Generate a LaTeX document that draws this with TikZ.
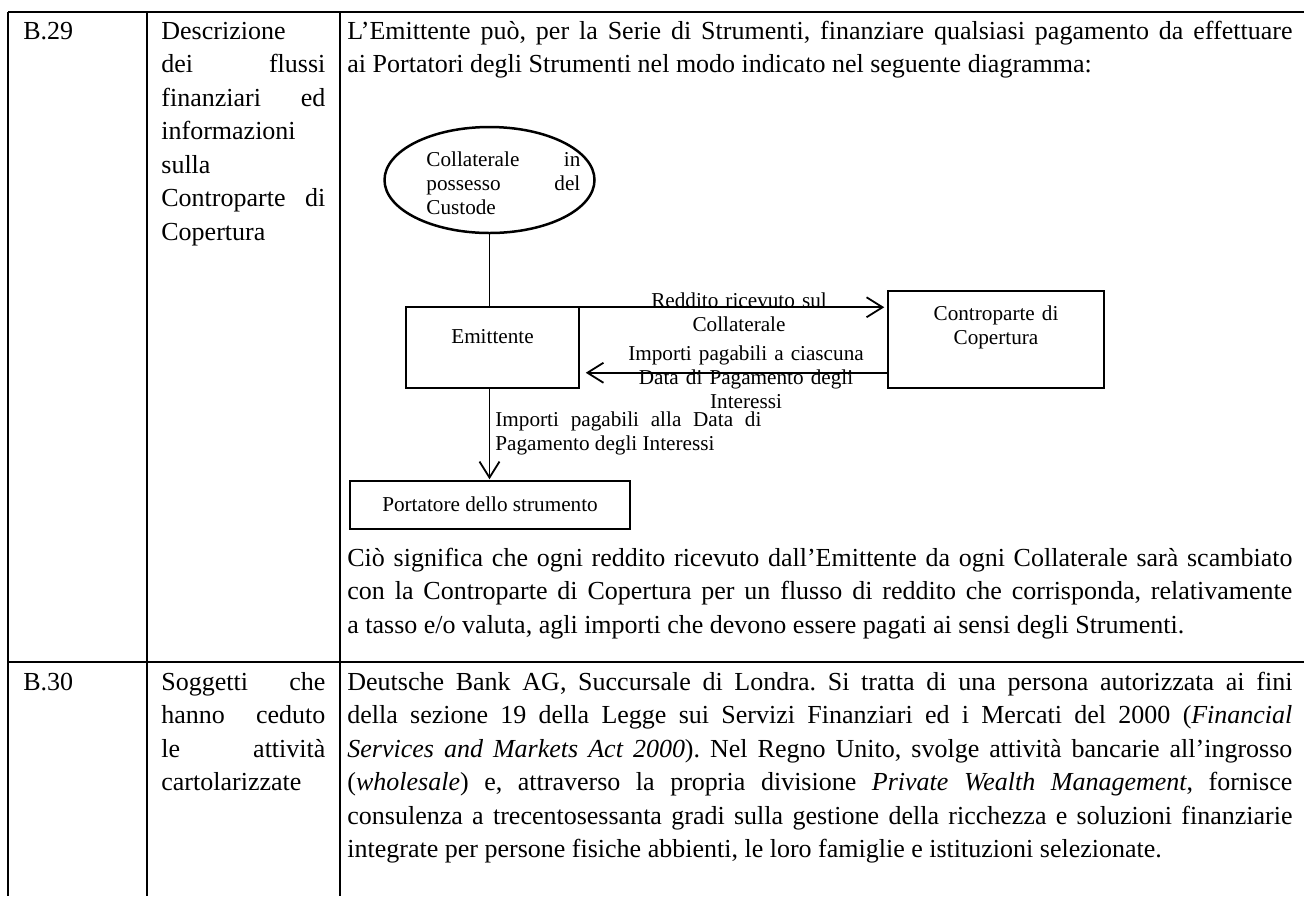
\documentclass[tikz,border=0pt]{standalone}
\usepackage{fontspec}
\setmainfont{Liberation Serif}
\usetikzlibrary{arrows.meta,shapes.geometric}
\frenchspacing

\newcommand{\bodyfont}{\fontsize{13pt}{16.75pt}\selectfont\hyphenpenalty=10000\tolerance=9999}
\newcommand{\dgmfont}{\fontsize{10.6pt}{12pt}\selectfont\hyphenpenalty=10000\tolerance=9999}

\begin{document}
\begin{tikzpicture}[x=0.5pt, y=-0.5pt,
    rule/.style={line width=1.3pt},
    celltext/.style={anchor=base west, inner sep=0pt, align=justify, font=\bodyfont},
    box/.style={draw, line width=0.75pt, inner sep=0pt},
    dgmtext/.style={inner sep=0pt, font=\dgmfont},
    flow/.style={line width=0.9pt, -{Straight Barb[length=8pt,width=10pt]}}]
  \useasboundingbox (0,0) rectangle (1304,896);

  % Draw the table rules
  \draw[rule] (8,12) -- (1304,12);
  \draw[rule] (8,662) -- (1304,662);
  \draw[rule] (8,12) -- (8,896);
  \draw[rule] (147,12) -- (147,896);
  \draw[rule] (340,12) -- (340,896);

  % First row
  \node[celltext] (num29) at (23,39) {B.29};
  \node[celltext, text width=82pt] (head29) at (161,39) {Descrizione\linebreak dei flussi\linebreak finanziari ed\linebreak informazioni\linebreak sulla\linebreak Controparte di\linebreak Copertura};
  \node[celltext, text width=472.5pt] (intro) at (347,39) {L’Emittente può, per la Serie di Strumenti, finanziare qualsiasi pagamento da effettuare\linebreak ai Portatori degli Strumenti nel modo indicato nel seguente diagramma:};

  % Diagram boxes
  \node[box, ellipse, line width=1.25pt, minimum width=105pt, minimum height=53pt] (coll) at (489.5,180) {};
  \node[dgmtext, anchor=base west, text width=77pt, align=justify] (colltext) at (426,166) {Collaterale in\linebreak possesso del\linebreak Custode};
  \node[box, minimum width=86.5pt, minimum height=40.5pt] (emitt) at (492.5,347.5) {};
  \node[dgmtext, anchor=base] (emittext) at (492.5,343) {Emittente};
  \node[box, minimum width=108pt, minimum height=48.5pt] (ctrp) at (996,339.5) {};
  \node[dgmtext, anchor=base, text width=100pt, align=center] (ctrptext) at (996,320) {Controparte di\\Copertura};
  \node[box, minimum width=140pt, minimum height=24pt] (port) at (490,505) {};
  \node[dgmtext, anchor=base] (porttext) at (490,511) {Portatore dello strumento};

  % Connectors
  \draw[line width=0.9pt] (coll.south) -- (coll.south |- emitt.north);
  \draw[flow] ([yshift=-0.5pt]emitt.north east) -- ([xshift=-1.5pt,yshift=-0.5pt]ctrp.west |- emitt.north east);
  \coordinate (back) at ([yshift=8pt]emitt.south east);
  \draw[flow] (ctrp.west |- back) -- ([xshift=3pt]back);
  \draw[flow] (coll.south |- emitt.south) -- ([yshift=0.5pt]coll.south |- port.north);

  % Connector labels
  \node[dgmtext, anchor=base, text width=100pt, align=center] (reddito) at (739,307) {Reddito ricevuto sul\\Collaterale};
  \node[dgmtext, anchor=base, text width=130pt, align=center] (importi) at (746,360) {Importi pagabili a ciascuna\\Data di Pagamento degli\\Interessi};
  \node[dgmtext, anchor=base west, text width=133pt, align=justify] (pagabili) at (495,426) {Importi pagabili alla Data di\linebreak Pagamento degli Interessi};

  \node[celltext, text width=472.5pt] (meaning) at (347,566) {Ciò significa che ogni reddito ricevuto dall’Emittente da ogni Collaterale sarà scambiato\linebreak con la Controparte di Copertura per un flusso di reddito che corrisponda, relativamente\linebreak a tasso e/o valuta, agli importi che devono essere pagati ai sensi degli Strumenti.};

  % Second row
  \node[celltext] (num30) at (23,690) {B.30};
  \node[celltext, text width=82pt] (head30) at (161,690) {Soggetti che\linebreak hanno ceduto\linebreak le attività\linebreak cartolarizzate};
  \node[celltext, text width=472.5pt] (bank) at (347,690) {Deutsche Bank AG, Succursale di Londra. Si tratta di una persona autorizzata ai fini\linebreak della sezione 19 della Legge sui Servizi Finanziari ed i Mercati del 2000 (\textit{Financial\linebreak Services and Markets Act 2000}). Nel Regno Unito, svolge attività bancarie all’ingrosso\linebreak (\textit{wholesale}) e, attraverso la propria divisione \textit{Private Wealth Management}, fornisce\linebreak consulenza a trecentosessanta gradi sulla gestione della ricchezza e soluzioni finanziarie\linebreak integrate per persone fisiche abbienti, le loro famiglie e istituzioni selezionate.};
\end{tikzpicture}
\end{document}
